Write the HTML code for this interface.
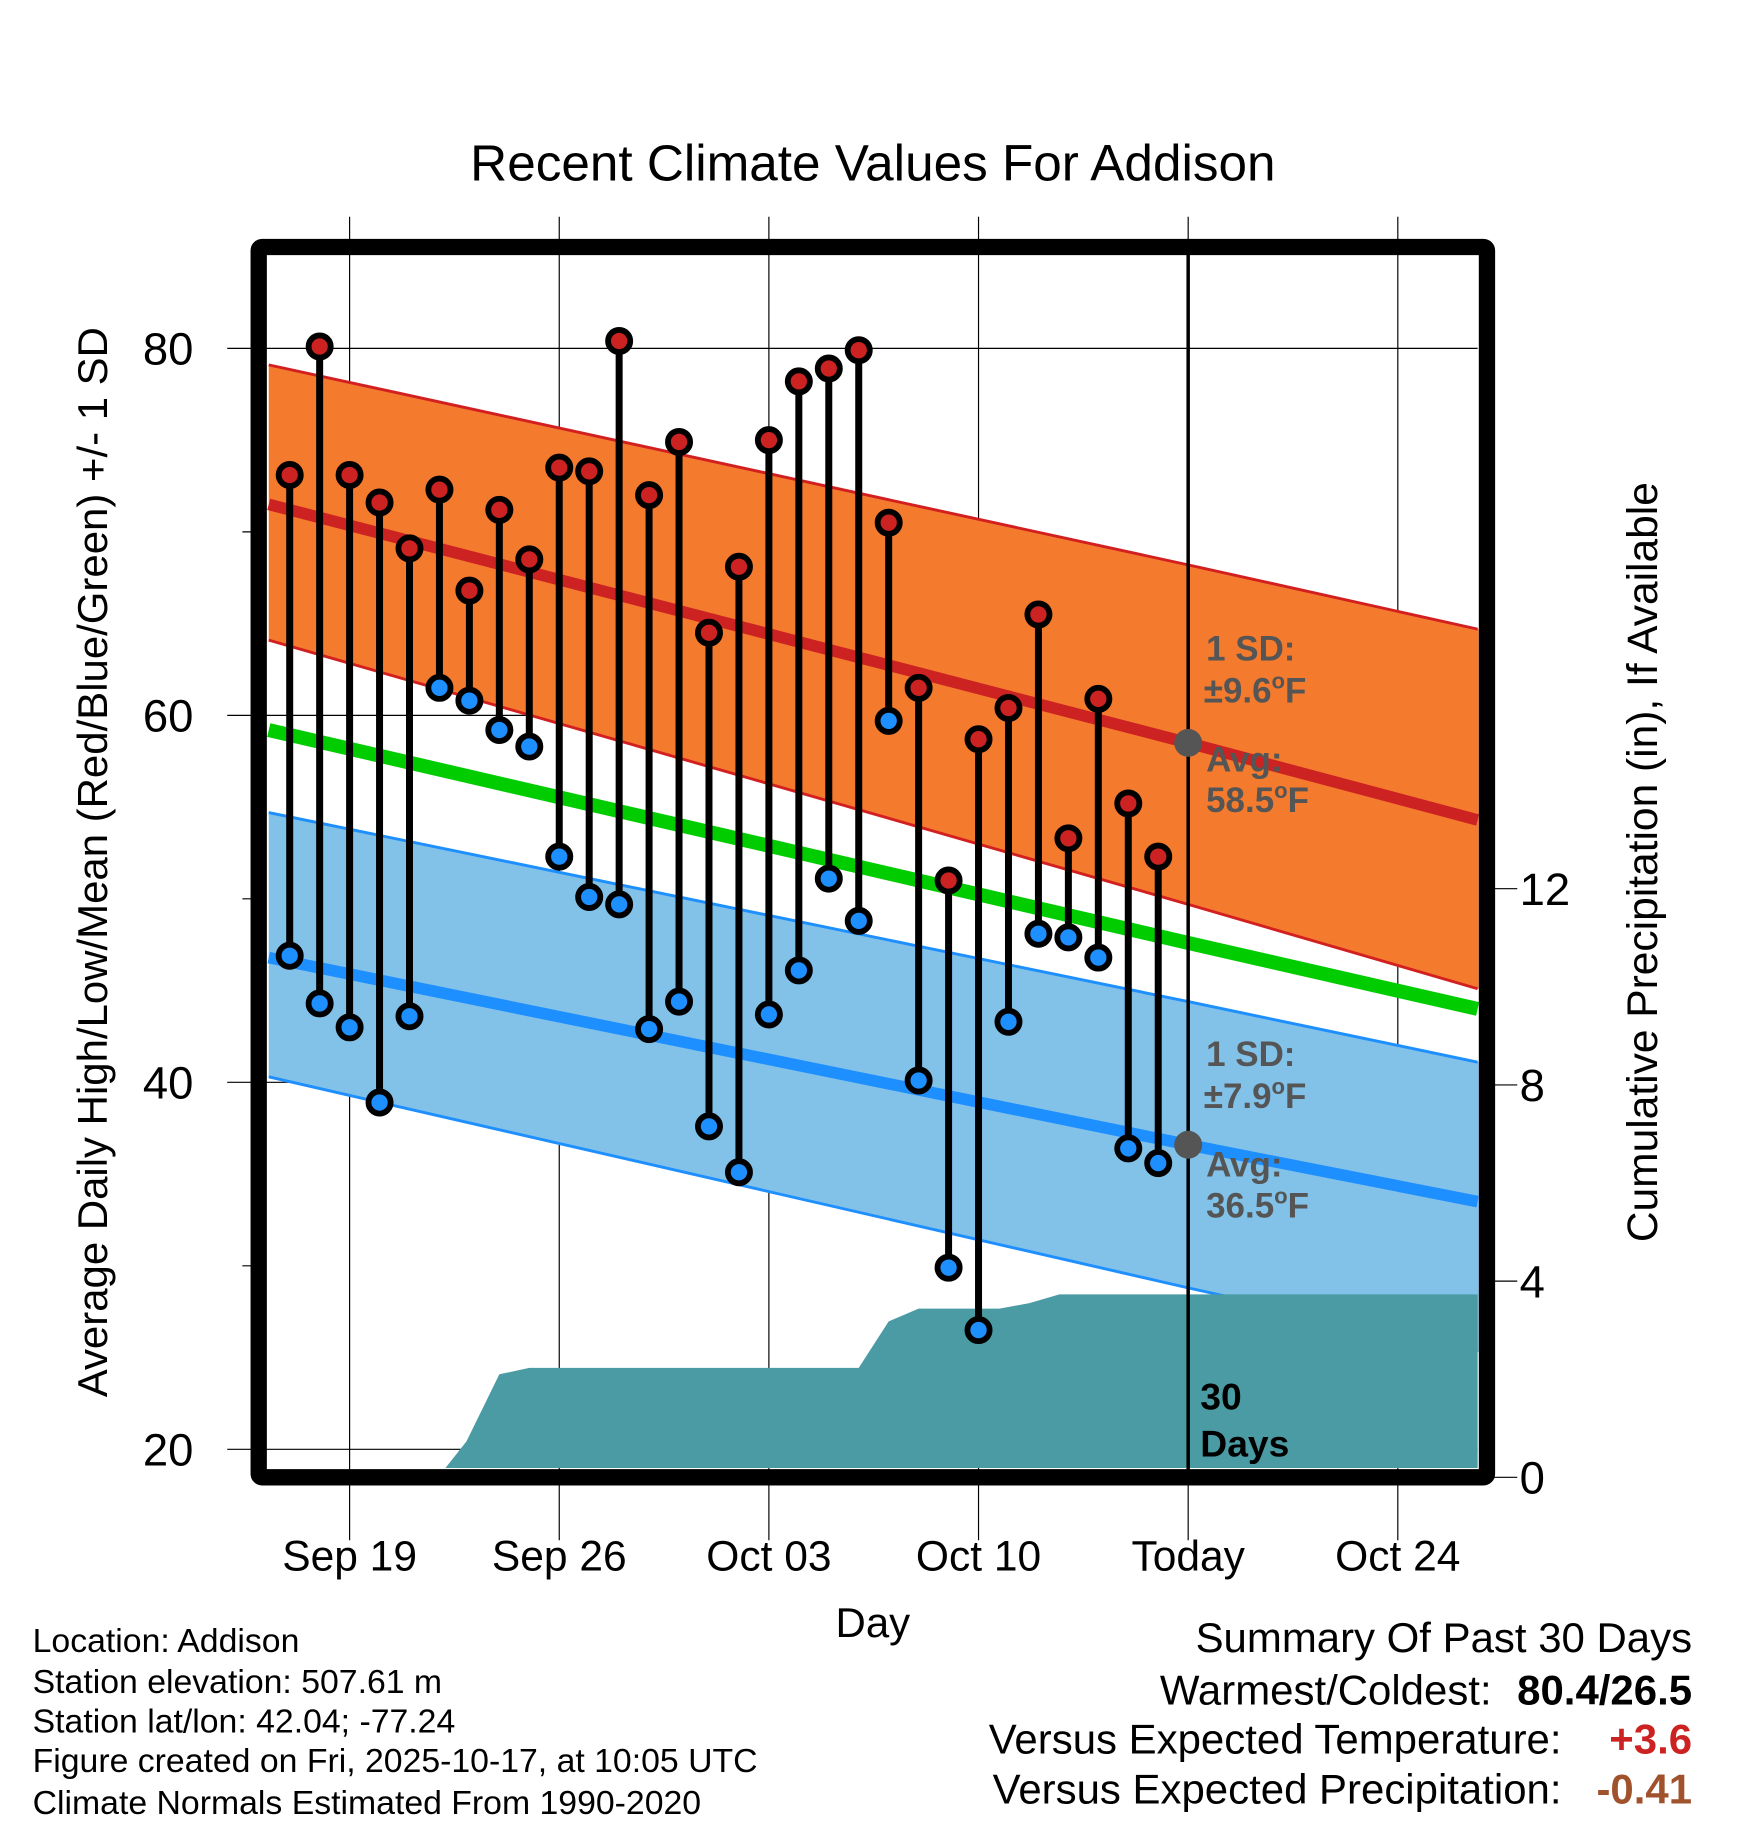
<!DOCTYPE html>
<html><head><meta charset="utf-8"><style>
html,body{margin:0;padding:0;background:#fff}
svg{display:block;font-family:"Liberation Sans",sans-serif}
</style></head><body>
<svg id="chart" xmlns="http://www.w3.org/2000/svg" width="1748" height="1828" viewBox="0 0 1500 1569" preserveAspectRatio="none">
<text x="749" y="155" font-size="44" text-anchor="middle">Recent Climate Values For Addison</text>
<g id="grid"></g>
<g id="bands"></g>
<g id="marks"></g>
<g id="frame"></g>
<g id="labels"></g>
<text x="749" y="1405" font-size="36" text-anchor="middle">Day</text>
<text transform="translate(92,740) rotate(-90)" font-size="36" text-anchor="middle">Average Daily High/Low/Mean (Red/Blue/Green) +/- 1 SD</text>
<text transform="translate(1422,740) rotate(-90)" font-size="36.5" text-anchor="middle">Cumulative Precipitation (in), If Available</text>
<g font-size="29">
<text x="28" y="1418">Location: Addison</text>
<text x="28" y="1453">Station elevation: 507.61 m</text>
<text x="28" y="1487">Station lat/lon: 42.04; -77.24</text>
<text x="28" y="1521">Figure created on Fri, 2025-10-17, at 10:05 UTC</text>
<text x="28" y="1557">Climate Normals Estimated From 1990-2020</text>
</g>
<g font-size="36">
<text x="1452" y="1418" text-anchor="end">Summary Of Past 30 Days</text>
<text x="1280" y="1463" text-anchor="end">Warmest/Coldest:</text>
<text x="1452" y="1463" text-anchor="end" font-weight="bold">80.4/26.5</text>
<text x="1340" y="1505" text-anchor="end">Versus Expected Temperature:</text>
<text x="1452" y="1505" text-anchor="end" font-weight="bold" fill="#cc2222">+3.6</text>
<text x="1340" y="1548" text-anchor="end">Versus Expected Precipitation:</text>
<text x="1452" y="1548" text-anchor="end" font-weight="bold" fill="#a0522d">-0.41</text>
</g>
</svg>
<script>
const obsDays=[-2,-1,0,1,2,3,4,5,6,7,8,9,10,11,12,13,14,15,16,17,18,19,20,21,22,23,24,25,26,27];
const highs=[73.1,80.1,73.1,71.6,69.1,72.3,66.8,71.2,68.5,73.5,73.3,80.4,72.0,74.9,64.5,68.1,75.0,78.2,78.9,79.9,70.5,61.5,51.0,58.7,60.4,65.5,53.3,60.9,55.2,52.3];
const lows=[46.9,44.3,43.0,38.9,43.6,61.5,60.8,59.2,58.3,52.3,50.1,49.7,42.9,44.4,37.6,35.1,43.7,46.1,51.1,48.8,59.7,40.1,29.9,26.5,43.3,48.1,47.9,46.8,36.4,35.6];
const normDays=[-2.7,28,37.7];
const highUpper=[79.1,68.2,64.7];
const highMean=[71.5,58.5,54.3];
const highLower=[64.1,49.7,45.1];
const meanMean=[59.2,47.6,44.0];
const lowUpper=[54.7,44.4,41.1];
const lowMean=[46.8,36.6,33.5];
const lowLower=[40.3,28.8,25.3];
const precipDays=[3.2,3.9,5,6,17,18,19,21.7,22.7,23.7,37.7];
const precipCum=[0,0.73,2.1,2.23,2.23,3.18,3.44,3.44,3.55,3.73,3.73];
const xTickDays=[0,7,14,21,28,35];
const xTickLabels=["Sep 19","Sep 26","Oct 03","Oct 10","Today","Oct 24"];
const yTicks=[80,60,40,20];
const yMinor=[70,50,30];
const pTicks=[0,4,8,12];

const X=d=>300+25.7*d;
const Y=v=>299+(80-v)*15.75;
const P=p=>1268-42.1*p;
const NS="http://www.w3.org/2000/svg";
function mk(tag,attrs,parent){const e=document.createElementNS(NS,tag);for(const k in attrs)e.setAttribute(k,attrs[k]);parent.appendChild(e);return e;}
const grid=document.getElementById('grid'),bands=document.getElementById('bands'),marks=document.getElementById('marks'),frame=document.getElementById('frame'),labels=document.getElementById('labels');
const L=230,R=1268,T=219,B=1260;

xTickDays.forEach((d,i)=>{
 const g=mk('line',{x1:X(d),x2:X(d),y1:186,y2:1322,stroke:'#000','stroke-width':1},grid);
 
 
 const t=mk('text',{x:X(d),y:1348,'font-size':36.5,'text-anchor':'middle'},labels);
 t.textContent=xTickLabels[i];
 
 
});
yTicks.forEach(v=>{
 const g=mk('line',{x1:195,x2:R,y1:Y(v),y2:Y(v),stroke:'#000','stroke-width':1},grid);
 
 
 const t=mk('text',{x:166,y:Y(v)+14,'font-size':39,'text-anchor':'end'},labels);
 t.textContent=v;
 
 
});
yMinor.forEach(v=>{
 const g=mk('line',{x1:208,x2:224,y1:Y(v),y2:Y(v),stroke:'#000','stroke-width':1},grid);
 
 
});
pTicks.forEach(p=>{
 const g=mk('line',{x1:1276,x2:1302,y1:P(p),y2:P(p),stroke:'#000','stroke-width':1},grid);
 
 
 const t=mk('text',{x:1304,y:P(p)+14,'font-size':39},labels);
 t.textContent=p;
 
 
});

function pts(arr){return normDays.map((d,i)=>Math.max(L,Math.min(R,X(d)))+','+Y(arr[i])).join(' ');}
function band(up,lo,fill,name){
 const a=normDays.map((d,i)=>X(d)+','+Y(up[i]));
 const b=normDays.map((d,i)=>X(d)+','+Y(lo[i])).reverse();
 const p=mk('polygon',{points:a.concat(b).join(' '),fill:fill},bands);
 
 
}
function line(arr,color,w,name){
 const p=mk('polyline',{points:pts(arr),fill:'none',stroke:color,'stroke-width':w},bands);
 
 
}
band(highUpper,highLower,'#f47a2e','high-sd-band');
line(highUpper,'#d22020',2.5,'high-upper-sd-line');
line(highLower,'#d22020',2.5,'high-lower-sd-line');
line(highMean,'#cc2222',10,'high-mean-line');
band(lowUpper,lowLower,'#82c1e8','low-sd-band');
line(lowUpper,'#1e8fff',2.5,'low-upper-sd-line');
line(lowLower,'#1e8fff',2.5,'low-lower-sd-line');
line(lowMean,'#1e8fff',10,'low-mean-line');
line(meanMean,'#00cc00',12,'mean-normal-line');

let pp=[[X(precipDays[0]),B]];
precipDays.forEach((d,i)=>pp.push([Math.min(R,X(d)),Math.min(B,P(precipCum[i]))]));
pp.push([R,B]);
const pr=mk('polygon',{points:pp.map(a=>a.join(',')).join(' '),fill:'#4a9ba3'},bands);



const tl=mk('line',{x1:X(28),x2:X(28),y1:212,y2:1262,stroke:'#000','stroke-width':3},marks);



obsDays.forEach((d,i)=>{
 const s=mk('line',{x1:X(d),x2:X(d),y1:Y(highs[i]),y2:Y(lows[i]),stroke:'#000','stroke-width':6},marks);
 
 
});
obsDays.forEach((d,i)=>{
 const h=mk('circle',{cx:X(d),cy:Y(highs[i]),r:9.5,fill:'#cc2222',stroke:'#000','stroke-width':5},marks);
 
 
 const l=mk('circle',{cx:X(d),cy:Y(lows[i]),r:9.5,fill:'#1e8fff',stroke:'#000','stroke-width':5},marks);
 
 
});
[highMean[1],lowMean[1]].forEach(v=>{
 const c=mk('circle',{cx:X(28),cy:Y(v),r:12,fill:'#555'},marks);
 
 
});

function txt(x,y,s,name,color,sup,fs){
 fs=fs||30;
 const t=mk('text',{x:x,y:y,'font-size':fs,'font-weight':'bold',fill:color},marks);
 
 
 if(sup){
  t.appendChild(document.createTextNode(s[0]));
  const ts=mk('tspan',{dy:-12,'font-size':19},t);ts.textContent='o';
  const t2=mk('tspan',{dy:12},t);t2.textContent=s[1];
 } else t.textContent=s;
}
txt(1035,567,'1 SD:','high-sd-label','#555');
txt(1033,603,['±9.6','F'],'high-sd-value','#555',true);
txt(1035,662,'Avg:','high-avg-label','#555');
txt(1035,697,['58.5','F'],'high-avg-value','#555',true);
txt(1035,915,'1 SD:','low-sd-label','#555');
txt(1033,951,['±7.9','F'],'low-sd-value','#555',true);
txt(1035,1010,'Avg:','low-avg-label','#555');
txt(1035,1045,['36.5','F'],'low-avg-value','#555',true);
txt(1030,1210,'30','period-label','#000',false,32);
txt(1030,1250,'Days','period-label-days','#000',false,32);

const f=mk('rect',{x:222,y:212,width:1054,height:1056,fill:'none',stroke:'#000','stroke-width':14,rx:3},frame);


</script>
</body></html>
